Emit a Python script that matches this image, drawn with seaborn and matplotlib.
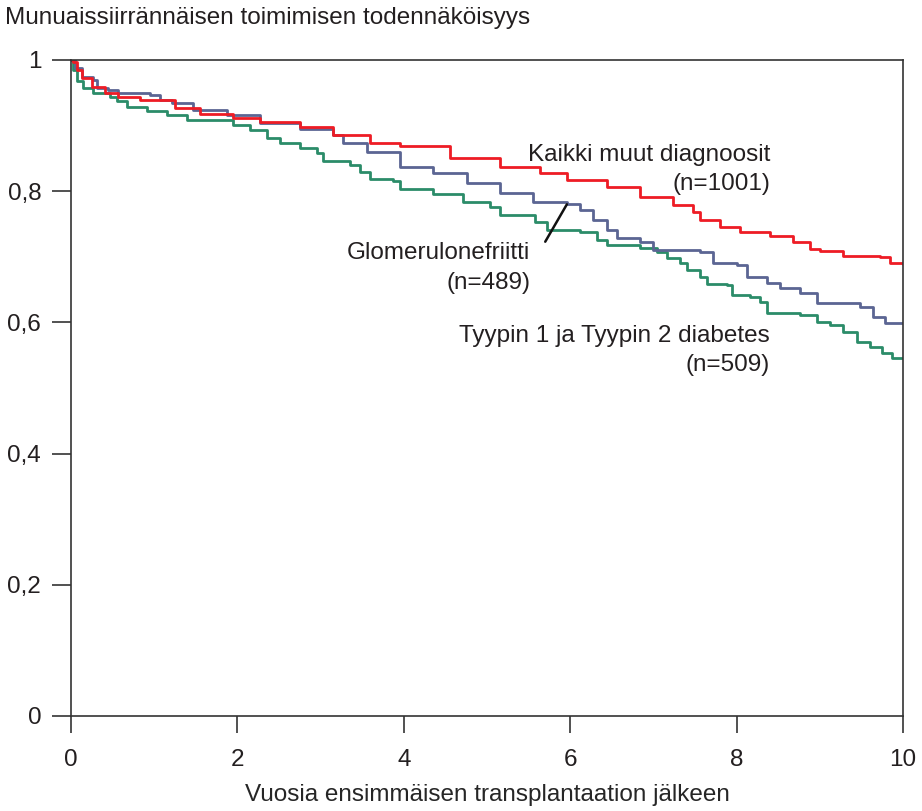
import pandas as pd
import matplotlib
matplotlib.use("Agg")
import matplotlib.pyplot as plt
import seaborn as sns

# Kaplan-Meier curves (years, survival)
muut_t = [0, 0.024, 0.072, 0.132, 0.252, 0.409, 0.565, 0.829, 1.25, 1.55, 1.947, 2.272,
          2.752, 3.149, 3.594, 3.954, 4.555, 5.156, 5.637, 5.962, 6.442, 6.839, 7.236,
          7.476, 7.56, 7.8, 8.041, 8.401, 8.678, 8.882, 9.002, 9.279, 9.724, 9.844, 10.0]
muut_s = [1.0, 0.997, 0.985, 0.973, 0.959, 0.950, 0.944, 0.939, 0.927, 0.918, 0.912, 0.905,
          0.898, 0.886, 0.873, 0.869, 0.851, 0.837, 0.828, 0.817, 0.806, 0.791, 0.779,
          0.768, 0.756, 0.745, 0.738, 0.732, 0.723, 0.712, 0.709, 0.701, 0.700, 0.691, 0.689]

glom_t = [0, 0.048, 0.132, 0.264, 0.313, 0.445, 0.565, 0.95, 1.07, 1.214, 1.466, 1.875,
          2.272, 2.752, 3.149, 3.269, 3.558, 3.954, 4.351, 4.76, 5.156, 5.553, 5.962,
          6.118, 6.274, 6.442, 6.562, 6.839, 6.995, 7.56, 7.716, 8.005, 8.125, 8.365,
          8.522, 8.762, 8.966, 9.483, 9.639, 9.784, 10.0]
glom_s = [1.0, 0.988, 0.974, 0.970, 0.957, 0.954, 0.950, 0.947, 0.939, 0.934, 0.924, 0.916,
          0.904, 0.895, 0.886, 0.873, 0.860, 0.837, 0.828, 0.812, 0.797, 0.784, 0.780,
          0.771, 0.756, 0.741, 0.729, 0.723, 0.710, 0.707, 0.691, 0.688, 0.669, 0.660,
          0.652, 0.645, 0.630, 0.623, 0.608, 0.599, 0.599]

diab_t = [0, 0.024, 0.072, 0.144, 0.264, 0.469, 0.553, 0.673, 0.913, 1.154, 1.394, 1.671,
          1.947, 2.151, 2.356, 2.512, 2.752, 2.957, 3.029, 3.353, 3.474, 3.594, 3.87,
          3.954, 4.351, 4.712, 5.036, 5.156, 5.577, 5.721, 6.118, 6.322, 6.442, 6.839,
          7.043, 7.163, 7.32, 7.404, 7.56, 7.644, 7.885, 7.945, 8.161, 8.281, 8.365,
          8.762, 8.966, 9.123, 9.279, 9.447, 9.603, 9.748, 9.868, 10.0]
diab_s = [1.0, 0.985, 0.968, 0.957, 0.950, 0.944, 0.938, 0.928, 0.922, 0.916, 0.909, 0.909,
          0.901, 0.893, 0.881, 0.873, 0.866, 0.858, 0.846, 0.840, 0.829, 0.819, 0.816,
          0.803, 0.796, 0.784, 0.776, 0.764, 0.753, 0.741, 0.738, 0.726, 0.718, 0.713,
          0.707, 0.698, 0.691, 0.680, 0.669, 0.659, 0.657, 0.642, 0.639, 0.631, 0.614,
          0.611, 0.601, 0.596, 0.585, 0.570, 0.563, 0.553, 0.546, 0.546]

groups = ["Kaikki muut diagnoosit", "Glomerulonefriitti", "Tyypin 1 ja Tyypin 2 diabetes"]
colors = ["#ee1c25", "#5b6593", "#2b8c69"]
xticks = [0, 2, 4, 6, 8, 10]
yticks = [0, 0.2, 0.4, 0.6, 0.8, 1]
ylabels = ["0", "0,2", "0,4", "0,6", "0,8", "1"]

df = pd.concat([
    pd.DataFrame({"t": muut_t, "s": muut_s, "ryhma": groups[0]}),
    pd.DataFrame({"t": glom_t, "s": glom_s, "ryhma": groups[1]}),
    pd.DataFrame({"t": diab_t, "s": diab_s, "ryhma": groups[2]}),
])

sns.set_style("ticks")
plt.rcParams["font.family"] = ["Liberation Sans", "DejaVu Sans"]
plt.rcParams["text.color"] = "#231f20"
fs = 17.5

fig = plt.figure(figsize=(9.22, 8.11), dpi=100)
ax = fig.add_axes([71 / 922, 1 - 716 / 811, 832 / 922, 656 / 811])

# diabetes first, red on top
order = [groups[2], groups[1], groups[0]]
for g in order:
    sub = df[df.ryhma == g]
    sns.lineplot(data=sub, x="t", y="s", color=colors[groups.index(g)], lw=2.0,
                 drawstyle="steps-post", estimator=None, sort=False, ax=ax)

ax.set_xlim(0, 10)
ax.set_ylim(0, 1)
ax.set_xticks(xticks)
ax.set_xticklabels([str(x) for x in xticks])
ax.set_yticks(yticks)
ax.set_yticklabels(ylabels)
ax.tick_params(axis="x", length=12, width=1.2, color="#333333", pad=12, labelsize=fs,
               labelcolor="#231f20")
ax.tick_params(axis="y", length=13.5, width=1.2, color="#333333", pad=8, labelsize=fs,
               labelcolor="#231f20")
for sp in ax.spines.values():
    sp.set_visible(True)
    sp.set_color("#333333")
    sp.set_linewidth(1.2)
ax.set_xlabel("Vuosia ensimmäisen transplantaation jälkeen", fontsize=fs, labelpad=9)
ax.set_ylabel("")

fig.text(0.005, 1 - 18 / 811, "Munuaissiirrännäisen toimimisen todennäköisyys",
         fontsize=fs, va="center", ha="left")

ax.text(8.40, 0.833, "Kaikki muut diagnoosit\n(n=1001)", fontsize=fs, ha="right",
        va="center", multialignment="right", linespacing=1.42)
ax.text(5.52, 0.683, "Glomerulonefriitti\n(n=489)", fontsize=fs, ha="right",
        va="center", multialignment="right", linespacing=1.42)
ax.text(8.40, 0.557, "Tyypin 1 ja Tyypin 2 diabetes\n(n=509)", fontsize=fs, ha="right",
        va="center", multialignment="right", linespacing=1.42)
ax.plot([5.70, 5.96], [0.723, 0.780], color="#111111", lw=1.8)

fig.savefig("out.png", dpi=100, facecolor="white")
